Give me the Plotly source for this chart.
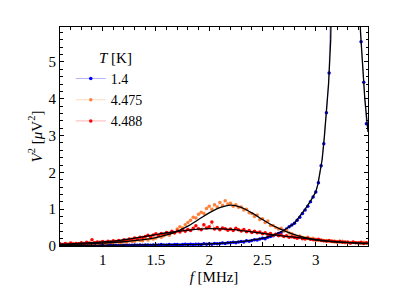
import numpy as np
import plotly.graph_objects as go

# measurement frequency grid [MHz]
freq = np.round(np.arange(0.6, 3.476, 0.025), 3)

# measured V^2 [uV^2]
v_14 = [0.02, 0.01, 0.02, 0.01, 0.02, 0.01, 0.02, 0.02, 0.01, 0.02, 0.02, 0.01,
        0.02, 0.02, 0.01, 0.02, 0.02, 0.01, 0.02, 0.02, 0.02, 0.02, 0.01, 0.02,
        0.02, 0.03, 0.02, 0.02, 0.03, 0.02, 0.03, 0.02, 0.03, 0.03, 0.02, 0.03,
        0.03, 0.03, 0.04, 0.03, 0.03, 0.04, 0.03, 0.04, 0.04, 0.03, 0.04, 0.05,
        0.04, 0.05, 0.04, 0.05, 0.05, 0.04, 0.06, 0.05, 0.06, 0.05, 0.07, 0.06,
        0.07, 0.08, 0.07, 0.09, 0.09, 0.10, 0.09, 0.11, 0.12, 0.11, 0.14, 0.13,
        0.15, 0.17, 0.16, 0.19, 0.21, 0.20, 0.24, 0.26, 0.28, 0.31, 0.34, 0.37,
        0.42, 0.46, 0.52, 0.57, 0.62, 0.70, 0.78, 0.88, 0.98, 1.08, 1.20, 1.33,
        1.47, 1.72, 2.18, 2.78, 3.62, 4.70, 6.30, 8.20, 11.0, 16.0, 24.0, 30.0,
        28.0, 20.0, 13.5, 9.5, 7.2, 5.55, 4.45, 3.32]

v_4475 = [0.05, 0.03, 0.06, 0.04, 0.04, 0.07, 0.05, 0.03, 0.07, 0.05, 0.08, 0.06,
          0.05, 0.09, 0.07, 0.08, 0.10, 0.07, 0.09, 0.11, 0.08, 0.12, 0.10, 0.09,
          0.13, 0.10, 0.14, 0.12, 0.13, 0.17, 0.15, 0.14, 0.20, 0.16, 0.21, 0.19,
          0.22, 0.27, 0.24, 0.28, 0.33, 0.29, 0.37, 0.35, 0.46, 0.52, 0.49, 0.58,
          0.64, 0.70, 0.78, 0.76, 0.86, 0.92, 0.88, 1.02, 1.08, 1.00, 1.12, 1.06,
          1.18, 1.10, 1.23, 1.14, 1.16, 1.08, 1.12, 1.05, 1.06, 0.98, 1.00, 0.90,
          0.88, 0.80, 0.84, 0.72, 0.74, 0.64, 0.68, 0.56, 0.56, 0.50, 0.46, 0.48,
          0.40, 0.43, 0.35, 0.33, 0.29, 0.26, 0.27, 0.23, 0.22, 0.24, 0.19, 0.21,
          0.18, 0.15, 0.17, 0.14, 0.15, 0.12, 0.14, 0.11, 0.12, 0.10, 0.13, 0.09,
          0.11, 0.08, 0.10, 0.09, 0.09, 0.07, 0.10, 0.08]

v_4488 = [0.06, 0.04, 0.07, 0.05, 0.08, 0.05, 0.07, 0.06, 0.09, 0.07, 0.10, 0.08,
          0.17, 0.09, 0.11, 0.10, 0.12, 0.10, 0.13, 0.11, 0.14, 0.12, 0.15, 0.13,
          0.17, 0.15, 0.19, 0.18, 0.22, 0.19, 0.24, 0.23, 0.26, 0.29, 0.25, 0.30,
          0.33, 0.29, 0.34, 0.31, 0.37, 0.34, 0.40, 0.36, 0.41, 0.38, 0.44, 0.40,
          0.45, 0.42, 0.48, 0.55, 0.47, 0.44, 0.58, 0.49, 0.52, 0.65, 0.46, 0.50,
          0.44, 0.49, 0.47, 0.43, 0.46, 0.42, 0.48, 0.44, 0.41, 0.45, 0.39, 0.42,
          0.37, 0.40, 0.36, 0.38, 0.33, 0.36, 0.31, 0.34, 0.29, 0.32, 0.28, 0.30,
          0.26, 0.28, 0.24, 0.25, 0.23, 0.21, 0.24, 0.20, 0.19, 0.21, 0.18, 0.17,
          0.16, 0.18, 0.15, 0.14, 0.13, 0.15, 0.12, 0.13, 0.11, 0.13, 0.10, 0.11,
          0.10, 0.08, 0.11, 0.09, 0.08, 0.10, 0.07, 0.09]

# fitted curves
fit_f_14 = [0.6, 1.0, 1.4, 1.7, 1.9, 2.1, 2.2, 2.3, 2.4, 2.5, 2.6, 2.7, 2.8, 2.85,
            2.9, 2.95, 3.0, 3.02, 3.04, 3.06, 3.08, 3.1, 3.12, 3.14, 3.16, 3.2,
            3.24, 3.28, 3.32, 3.36, 3.38, 3.40, 3.42, 3.44, 3.46, 3.49]
fit_v_14 = [0.012, 0.016, 0.024, 0.035, 0.045, 0.07, 0.09, 0.12, 0.16, 0.21, 0.29,
            0.42, 0.62, 0.80, 1.0, 1.22, 1.47, 1.68, 2.0, 2.35, 2.95, 3.6, 4.4,
            5.6, 7.0, 11.0, 20.0, 30.0, 20.0, 11.5, 9.0, 7.2, 5.8, 4.85, 4.0, 3.1]

fit_f = [0.6, 0.7, 0.8, 0.9, 1.0, 1.1, 1.2, 1.3, 1.4, 1.5, 1.6, 1.7, 1.8, 1.9, 2.0,
         2.1, 2.2, 2.3, 2.4, 2.5, 2.6, 2.7, 2.8, 2.9, 3.0, 3.1, 3.2, 3.3, 3.4, 3.49]
fit_v_4475 = [0.035, 0.045, 0.055, 0.065, 0.08, 0.095, 0.115, 0.145, 0.18, 0.23,
              0.30, 0.40, 0.54, 0.72, 0.90, 1.04, 1.11, 1.05, 0.90, 0.72, 0.55,
              0.42, 0.31, 0.23, 0.17, 0.13, 0.105, 0.09, 0.075, 0.065]
fit_v_4488 = [0.05, 0.06, 0.075, 0.09, 0.11, 0.13, 0.17, 0.215, 0.26, 0.31, 0.36,
              0.40, 0.43, 0.46, 0.47, 0.465, 0.45, 0.42, 0.385, 0.345, 0.305, 0.27,
              0.24, 0.21, 0.17, 0.14, 0.115, 0.10, 0.085, 0.077]

series = [
    ("1.4", v_14, "#0000ff", "rgba(0,0,255,0.3)"),
    ("4.475", v_4475, "#ff7f3a", "rgba(255,127,58,0.3)"),
    ("4.488", v_4488, "#ff0000", "rgba(255,0,0,0.3)"),
]

FONT = "Liberation Serif"
fig = go.Figure()
for name, vals, mc, lc in series:
    fig.add_trace(go.Scatter(
        x=freq, y=vals, name=name, mode="lines+markers",
        line=dict(color=lc, width=1),
        marker=dict(color=mc, size=3.5, symbol="circle"),
    ))

for fx, fy, shape in [(fit_f_14, fit_v_14, "linear"),
                      (fit_f, fit_v_4475, "spline"),
                      (fit_f, fit_v_4488, "spline")]:
    fig.add_trace(go.Scatter(x=fx, y=fy, mode="lines", showlegend=False,
                             line=dict(color="black", width=1.3, shape=shape),
                             hoverinfo="skip"))

axis_common = dict(
    showline=True, linecolor="black", linewidth=1, mirror="allticks",
    ticks="inside", ticklen=4, tickwidth=1, tickcolor="black",
    showgrid=False, zeroline=False, automargin=False,
    tickfont=dict(family=FONT, size=15, color="black"),
)
fig.update_xaxes(
    range=[0.6, 3.49], tickvals=[1, 1.5, 2, 2.5, 3],
    ticktext=["1", "1.5", "2", "2.5", "3"],
    minor=dict(dtick=0.1, ticks="inside", ticklen=2.5, tickcolor="black", showgrid=False),
    title=dict(text="<i>f</i> [MHz]", font=dict(family=FONT, size=15, color="black"),
               standoff=4),
    **axis_common)
fig.update_yaxes(
    range=[0, 5.95], tickvals=[0, 1, 2, 3, 4, 5],
    minor=dict(dtick=0.2, ticks="inside", ticklen=2.5, tickcolor="black", showgrid=False),
    title=dict(text="<i>V</i><sup>2</sup> [<i>μ</i>V<sup>2</sup>]",
               font=dict(family=FONT, size=15, color="black"), standoff=2),
    **axis_common)

# page body adds an 8 px offset, so the margins are shifted to compensate
fig.update_layout(
    width=415, height=294,
    margin=dict(l=52, r=55, t=19, b=56, autoexpand=False),
    paper_bgcolor="white", plot_bgcolor="white",
    showlegend=True,
    legend=dict(
        x=0.035, y=0.925, xanchor="left", yanchor="top",
        bgcolor="rgba(0,0,0,0)",
        font=dict(family=FONT, size=14, color="black"),
        title=dict(text="&nbsp;&nbsp;&nbsp;&nbsp;&nbsp;&nbsp;&nbsp;<i>T</i> [K]", side="top",
                   font=dict(family=FONT, size=15, color="black")),
        itemwidth=30, tracegroupgap=0,
    ),
)

fig.write_html("out.html")
